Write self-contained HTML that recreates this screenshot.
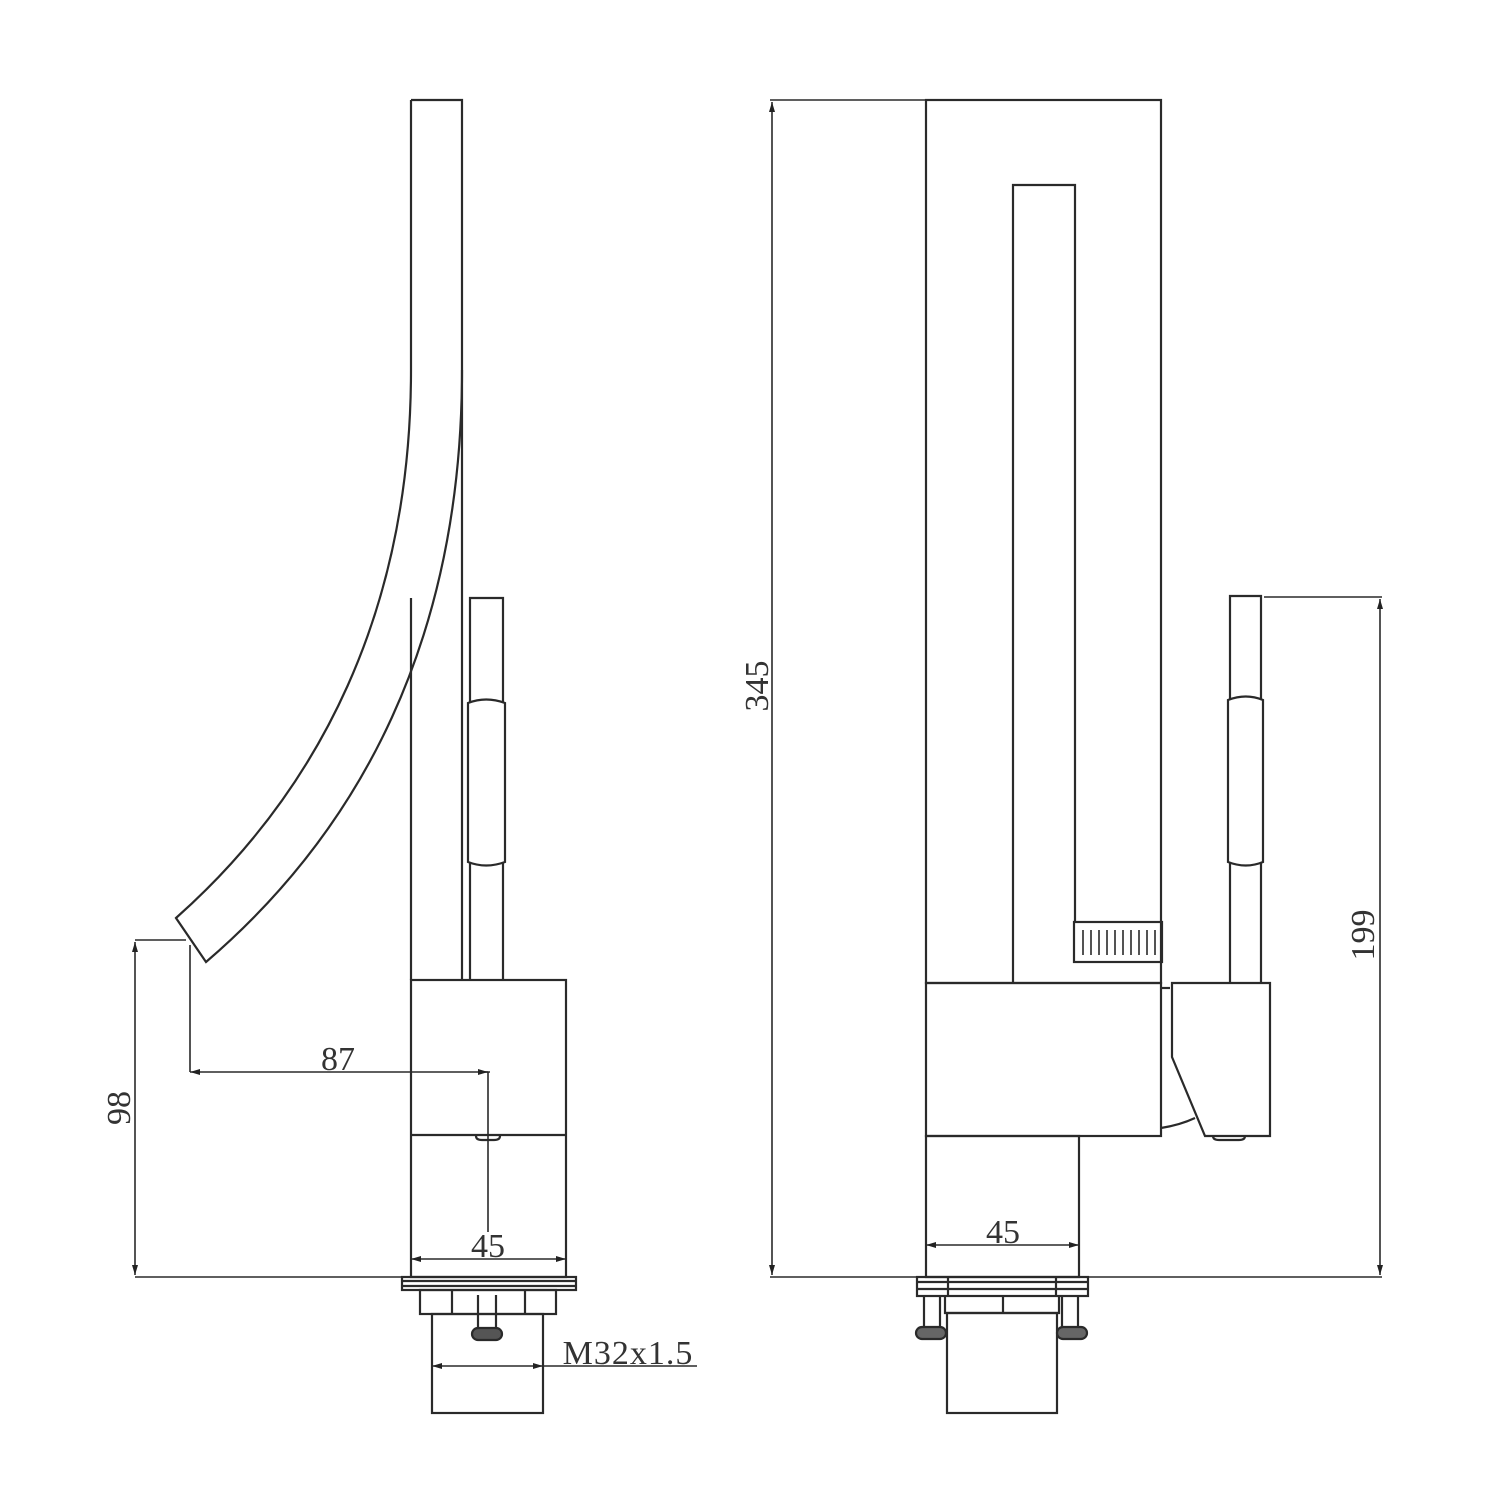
<!DOCTYPE html>
<html><head><meta charset="utf-8"><style>html,body{margin:0;padding:0;background:#fff}svg{display:block}</style></head>
<body>
<svg width="1500" height="1500" viewBox="0 0 1500 1500" xmlns="http://www.w3.org/2000/svg">
<defs>
<marker id="a" viewBox="0 0 10 6" refX="10" refY="3" markerWidth="12" markerHeight="6" markerUnits="userSpaceOnUse" orient="auto-start-reverse"><path d="M0,0L10,3L0,6z" fill="#222"/></marker>
</defs>
<g fill="none" stroke="#2a2a2a" stroke-width="2.2">
<!-- LEFT VIEW -->
<path d="M411,100 H462 V980"/>
<path d="M411,100 V370 C411,610 320,790 176,918 L206,962 C360,830 462,640 462,370"/>
<path d="M411,598 V980"/>
<path d="M470,980 V598 H503 V980"/>
<path d="M468,703 Q486,696 505,703 V862 Q486,869 468,862 Z" fill="#fff"/>
<rect x="411" y="980" width="155" height="297"/>
<path d="M411,1135 H566"/>
<path d="M476,1136 q0,4 6,4 h12 q6,0 6,-4"/>
<rect x="402" y="1277" width="174" height="13"/>
<path d="M402,1281 H576 M402,1286 H576"/>
<rect x="420" y="1290" width="136" height="24"/>
<path d="M452,1290 V1314 M525,1290 V1314"/>
<rect x="432" y="1314" width="111" height="99"/>
<path d="M478,1295 V1330 M496,1295 V1330"/>
<rect x="472" y="1328" width="30" height="12" rx="6" fill="#555"/>
<g stroke-width="1.6">
<path d="M135,940 H186 M135,1277 H402"/>
<path d="M135,942 V1275" marker-start="url(#a)" marker-end="url(#a)"/>
<path d="M190,945 V1072 M488,1072 V1232 M490,1072 H480"/>
<path d="M190,1072 H488" marker-start="url(#a)" marker-end="url(#a)"/>
<path d="M411,1259 H566" marker-start="url(#a)" marker-end="url(#a)"/>
<path d="M432,1366 H543" marker-start="url(#a)" marker-end="url(#a)"/>
<path d="M543,1366 H697"/>
</g>
<!-- RIGHT VIEW -->
<rect x="926" y="100" width="235" height="883"/>
<path d="M1013,983 V185 H1075 V922"/>
<rect x="1074" y="922" width="88" height="40"/>
<g stroke-width="1.6"><path d="M1083,930 V955 M1091,930 V955 M1099,930 V955 M1107,930 V955 M1115,930 V955 M1123,930 V955 M1131,930 V955 M1139,930 V955 M1147,930 V955 M1155,930 V955"/></g>
<rect x="926" y="983" width="235" height="153"/>
<path d="M1161,988 H1170"/>
<path d="M1172,983 H1270 V1136 H1205 L1172,1057 Z"/>
<path d="M1161,1128 Q1180,1125 1195,1118"/>
<path d="M1213,1136 q0,4 6,4 h20 q6,0 6,-4"/>
<path d="M1230,983 V596 H1261 V983"/>
<path d="M1228,700 Q1246,693 1263,700 V862 Q1246,869 1228,862 Z" fill="#fff"/>
<rect x="926" y="1136" width="153" height="141"/>
<rect x="917" y="1277" width="171" height="19"/>
<path d="M917,1282 H1088 M917,1289 H1088 M948,1277 V1296 M1056,1277 V1296"/>
<path d="M945,1296 V1313 H1059 V1296 M1003,1296 V1313"/>
<rect x="947" y="1313" width="110" height="100"/>
<path d="M924,1296 V1330 M940,1296 V1330 M1062,1296 V1330 M1078,1296 V1330"/>
<rect x="916" y="1327" width="30" height="12" rx="6" fill="#666"/>
<rect x="1057" y="1327" width="30" height="12" rx="6" fill="#666"/>
<g stroke-width="1.6">
<path d="M770,100 H926 M770,1277 H1382 M1264,597 H1382"/>
<path d="M772,102 V1275" marker-start="url(#a)" marker-end="url(#a)"/>
<path d="M1380,599 V1275" marker-start="url(#a)" marker-end="url(#a)"/>
<path d="M926,1245 H1079" marker-start="url(#a)" marker-end="url(#a)"/>
</g>
</g>
<g font-family="'Liberation Serif', serif" font-size="34" fill="#333">
<text x="338" y="1070" text-anchor="middle">87</text>
<text x="488" y="1257" text-anchor="middle">45</text>
<text x="1003" y="1243" text-anchor="middle">45</text>
<text x="628" y="1364" text-anchor="middle" letter-spacing="1">M32x1.5</text>
<text transform="translate(130,1108) rotate(-90)" text-anchor="middle">98</text>
<text transform="translate(768,686) rotate(-90)" text-anchor="middle">345</text>
<text transform="translate(1374,935) rotate(-90)" text-anchor="middle">199</text>
</g>
</svg>
</body></html>
